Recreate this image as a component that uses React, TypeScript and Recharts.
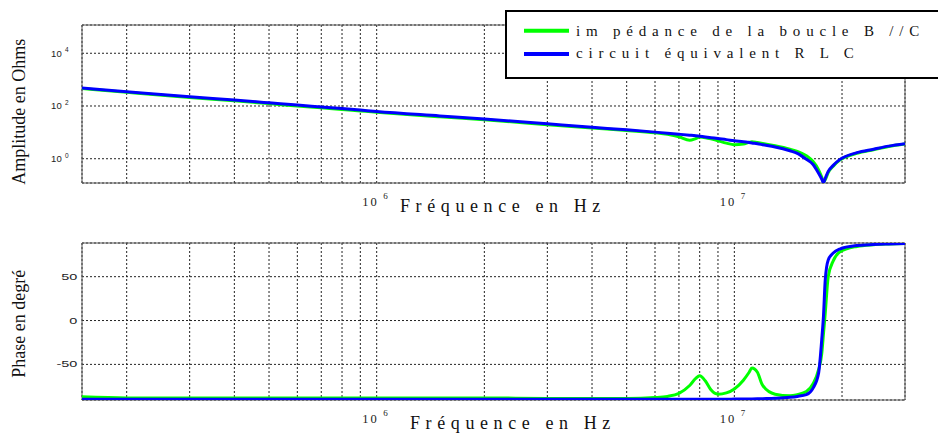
import { LineChart, Line, XAxis, YAxis, CartesianGrid, ReferenceArea, Label } from "recharts";

// frequency samples (Hz)
const freqHz = [
    1.5e5, 2e5, 3e5, 4e5, 5e5, 6e5, 7e5, 8e5, 9e5,
    1e6, 1.5e6, 2e6, 3e6, 4e6, 5e6, 6e6, 6.5e6, 7e6, 7.5e6, 7.8e6, 8e6, 8.3e6, 8.6e6, 9e6, 9.5e6,
    1e7, 1.06e7, 1.1e7, 1.12e7, 1.16e7, 1.2e7, 1.3e7, 1.43e7, 1.5e7, 1.59e7, 1.66e7, 1.72e7,
    1.755e7, 1.775e7, 1.795e7, 1.83e7, 1.89e7, 1.97e7, 2.2e7, 2.45e7, 2.7e7, 3e7,
];

// |Z| in ohms
const ampMeasured = [
    460, 330, 210, 157, 123, 100, 85, 74, 65,
    58, 39, 30, 19.5, 14.5, 11.8, 9.6, 8.4, 6.8, 5.0, 5.8, 6.6, 6.3, 5.7, 4.8, 3.9,
    3.4, 3.6, 4.2, 4.4, 4.1, 3.8, 3.1, 2.3, 1.9, 1.3, 0.78, 0.38,
    0.2, 0.13, 0.16, 0.3, 0.52, 0.88, 1.6, 2.2, 2.9, 3.6,
];
const ampRlc = [
    480, 350, 225, 168, 132, 108, 92, 80, 70,
    62, 42, 32, 21, 15.5, 12.5, 10.2, 9.3, 8.5, 7.8, 7.4, 7.1, 6.7, 6.3, 5.8, 5.3,
    4.8, 4.4, 4.1, 3.95, 3.7, 3.4, 2.8, 2.0, 1.6, 0.95, 0.6, 0.28,
    0.17, 0.125, 0.18, 0.33, 0.56, 0.92, 1.7, 2.3, 3.0, 3.7,
];

// phase in degrees
const phaseMeasured = [
    -87, -88.2, -88.2, -88.2, -88.2, -88.2, -88.2, -88.2, -88.2,
    -88.2, -88.2, -88.2, -88.8, -88.8, -88.8, -87.8, -86.5, -83, -74, -66, -63, -69, -79, -84, -82.5,
    -78, -68, -59, -54, -59, -74, -84, -85.8, -84.5, -81, -72, -56,
    -38, -15, 8, 50, 68, 78, 84.5, 86.5, 87.3, 87.9,
];
const phaseRlc = [
    -89.8, -89.8, -89.8, -89.8, -89.8, -89.8, -89.8, -89.8, -89.8,
    -89.8, -89.8, -89.8, -89.8, -89.8, -89.8, -89.8, -89.8, -89.8, -89.8, -89.8, -89.8, -89.8, -89.8, -89.8, -89.8,
    -89.6, -89.5, -89.4, -89.4, -89.3, -89.1, -88.6, -87.5, -86.5, -84.5, -77, -60,
    -22, 5, 46, 69, 77, 81.5, 85.5, 86.7, 87.3, 87.8,
];

const freqGrid = [
    2e5, 3e5, 4e5, 5e5, 6e5, 7e5, 8e5, 9e5,
    1e6, 2e6, 3e6, 4e6, 5e6, 6e6, 7e6, 8e6, 9e6,
    1e7, 2e7,
];
const decadeLabels = [1e6, 1e7];
const ampTicks = [1, 100, 10000];
const phaseTicks = [-50, 0, 50];

const seriesNames = ["im pédance de la boucle B //C", "circuit équivalent R L C"];
const xTitle = "Fréquence en Hz";
const ampTitle = "Amplitude en Ohms";
const phaseTitle = "Phase en degré";

const freqDomain = [1.5e5, 3e7];
const ampDomain = [0.12, 118000];
const phaseDomain = [-90.6, 88.4];

const GREEN = "#00ff00";
const BLUE = "#0000ff";
const SERIF = "'Times New Roman', Times, 'Liberation Serif', 'DejaVu Serif', 'Noto Serif', FreeSerif, serif";
const SANS = "'Liberation Sans', Arial, sans-serif";

const ampData = freqHz.map((f, i) => ({ f, measured: ampMeasured[i], rlc: ampRlc[i] }));
const phaseData = freqHz.map((f, i) => ({ f, measured: phaseMeasured[i], rlc: phaseRlc[i] }));

const FreqTick = ({ x, y, payload }: any) => {
    if (!decadeLabels.includes(payload.value)) return <g />;
    const exp = Math.round(Math.log10(payload.value));
    return (
        <g>
            <text x={x + 2} y={y + 22.5} textAnchor="end" fontSize={12.5} letterSpacing={2} style={{ fontFamily: SERIF, fill: "#222" }}>
                10
            </text>
            <text x={x + 6.5} y={y + 16} fontSize={9} style={{ fontFamily: SERIF, fill: "#222" }}>
                {exp}
            </text>
        </g>
    );
};

const PowerTick = ({ x, y, payload }: any) => {
    const exp = Math.round(Math.log10(payload.value));
    return (
        <g>
            <text x={x - 20.3} y={y + 3.4} textAnchor="end" fontSize={9.5} style={{ fontFamily: SANS, fill: "#222" }}>
                10
            </text>
            <text x={x - 17} y={y - 1} fontSize={6.5} style={{ fontFamily: SANS, fill: "#222" }}>
                {exp}
            </text>
        </g>
    );
};

const PhaseTick = ({ x, y, payload }: any) => (
    <text
        transform={`translate(${x - 4.7},${y + 3})scale(1.7,1)`}
        textAnchor="end"
        fontSize={8.5}
        style={{ fontFamily: SANS, fill: "#222" }}
    >
        {payload.value}
    </text>
);

const xTitleAt = (dx: number) => (props: any) => {
    const vb = props.viewBox;
    return (
        <text
            x={vb.x + dx}
            y={vb.y + 28.7}
            fontSize={18}
            letterSpacing={5.6}
            style={{ fontFamily: SERIF, fill: "#111" }}
        >
            {xTitle}
        </text>
    );
};

const yTitleAt = (text: string, dy: number) => (props: any) => {
    const vb = props.viewBox;
    const cx = vb.x + 25;
    const cy = vb.y + vb.height / 2 + dy;
    return (
        <text
            x={cx}
            y={cy}
            transform={`rotate(-90 ${cx} ${cy})`}
            textAnchor="middle"
            fontSize={18}
            style={{ fontFamily: SERIF, fill: "#111" }}
        >
            {text}
        </text>
    );
};

const margin = { top: 25, right: 33, bottom: 5, left: 0 };

const App = () => {
    return (
        <div
            style={{
                position: "fixed",
                left: 0,
                top: 0,
                width: 938,
                height: 436,
                overflow: "hidden",
                background: "#fff",
            }}
        >
            <div style={{ position: "absolute", left: 0, top: 0 }}>
                <LineChart width={938} height={218} data={ampData} margin={margin}>
                    <CartesianGrid stroke="#222" strokeDasharray="2 2" />
                    <XAxis
                        dataKey="f"
                        type="number"
                        scale="log"
                        domain={freqDomain}
                        allowDataOverflow
                        ticks={freqGrid}
                        interval={0}
                        tick={<FreqTick />}
                        tickLine={false}
                        axisLine={false}
                        tickSize={0}
                        tickMargin={0}
                        height={30}
                    >
                        <Label content={xTitleAt(318)} />
                    </XAxis>
                    <YAxis
                        type="number"
                        scale="log"
                        domain={ampDomain}
                        allowDataOverflow
                        ticks={ampTicks}
                        interval={0}
                        tick={<PowerTick />}
                        tickLine={false}
                        axisLine={false}
                        tickSize={0}
                        tickMargin={0}
                        width={82}
                    >
                        <Label content={yTitleAt(ampTitle, 7.7)} />
                    </YAxis>
                    <ReferenceArea
                        x1={freqDomain[0]}
                        x2={freqDomain[1]}
                        y1={ampDomain[0]}
                        y2={ampDomain[1]}
                        fill="none"
                        stroke="#555"
                    />
                    <Line
                        type="monotone"
                        dataKey="measured"
                        name={seriesNames[0]}
                        stroke={GREEN}
                        strokeWidth={3}
                        dot={false}
                        isAnimationActive={false}
                    />
                    <Line
                        type="monotone"
                        dataKey="rlc"
                        name={seriesNames[1]}
                        stroke={BLUE}
                        strokeWidth={3}
                        dot={false}
                        isAnimationActive={false}
                    />
                </LineChart>
            </div>

            <div style={{ position: "absolute", left: 0, top: 218 }}>
                <LineChart width={938} height={218} data={phaseData} margin={{ ...margin, bottom: 6 }}>
                    <CartesianGrid stroke="#222" strokeDasharray="2 2" />
                    <XAxis
                        dataKey="f"
                        type="number"
                        scale="log"
                        domain={freqDomain}
                        allowDataOverflow
                        ticks={freqGrid}
                        interval={0}
                        tick={<FreqTick />}
                        tickLine={false}
                        axisLine={false}
                        tickSize={0}
                        tickMargin={0}
                        height={30}
                    >
                        <Label content={xTitleAt(328)} />
                    </XAxis>
                    <YAxis
                        type="number"
                        domain={phaseDomain}
                        allowDataOverflow
                        ticks={phaseTicks}
                        interval={0}
                        tick={<PhaseTick />}
                        tickLine={false}
                        axisLine={false}
                        tickSize={0}
                        tickMargin={0}
                        width={82}
                    >
                        <Label content={yTitleAt(phaseTitle, 2.3)} />
                    </YAxis>
                    <ReferenceArea
                        x1={freqDomain[0]}
                        x2={freqDomain[1]}
                        y1={phaseDomain[0]}
                        y2={phaseDomain[1]}
                        fill="none"
                        stroke="#555"
                    />
                    <Line
                        type="monotone"
                        dataKey="measured"
                        name={seriesNames[0]}
                        stroke={GREEN}
                        strokeWidth={3}
                        dot={false}
                        isAnimationActive={false}
                    />
                    <Line
                        type="monotone"
                        dataKey="rlc"
                        name={seriesNames[1]}
                        stroke={BLUE}
                        strokeWidth={3}
                        dot={false}
                        isAnimationActive={false}
                    />
                </LineChart>
            </div>

            {/* legend box, sits over the top of the amplitude plot */}
            <svg width={938} height={90} style={{ position: "absolute", left: 0, top: 0 }}>
                <rect x={506} y={11} width={440} height={67} fill="#fff" stroke="#000" strokeWidth={2} />
                <line x1={524} x2={569} y1={30.7} y2={30.7} stroke={GREEN} strokeWidth={4} />
                <line x1={524} x2={569} y1={54} y2={54} stroke={BLUE} strokeWidth={4} />
                <g fontSize={15} letterSpacing={5.8} style={{ fontFamily: SERIF, fill: "#111" }}>
                    <text x={576} y={35.7}>{seriesNames[0]}</text>
                    <text x={576} y={58.3}>{seriesNames[1]}</text>
                </g>
            </svg>
        </div>
    );
};

export default App;
